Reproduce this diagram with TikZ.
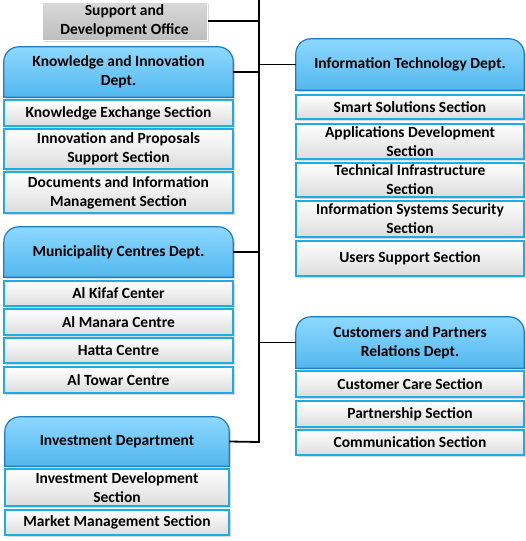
\documentclass[tikz,border=0pt]{standalone}
\usepackage{fontspec}
\setmainfont{Carlito}
\usetikzlibrary{shadows,backgrounds,calc}
\definecolor{deptTop}{HTML}{8DD8FF}
\definecolor{deptBot}{HTML}{52B8EE}
\definecolor{deptLine}{HTML}{1F7BC4}
\definecolor{secLine}{HTML}{1AAEE8}
\definecolor{secBot}{HTML}{DCDCDC}
\definecolor{supTop}{HTML}{D9D9D9}
\definecolor{supBot}{HTML}{BEBEBE}
\tikzset{
  txt/.style={font=\fontsize{15.5}{19}\selectfont\bfseries, align=center, inner sep=0pt, text=black},
  secbox/.style={txt, draw=secLine, line width=1.2pt, top color=white, bottom color=secBot,
     drop shadow={shadow xshift=2pt, shadow yshift=-2pt, opacity=0.3, fill=gray}},
  deptbox/.style={txt, minimum height=#1},
  supbox/.style={txt, draw=white, line width=1pt, top color=supTop, bottom color=supBot,
     drop shadow={shadow xshift=2pt, shadow yshift=-2pt, opacity=0.3, fill=gray}},
  conn/.style={line width=1.8pt, black},
  deptshape/.style={top color=deptTop, bottom color=deptBot, draw=deptLine, line width=1.2pt,
     drop shadow={shadow xshift=2pt, shadow yshift=-2pt, opacity=0.3, fill=gray}},
}
\newcommand{\deptshape}[1]{%
  \begin{pgfonlayer}{background}
  \shade[deptshape] (#1.south west) -- ([yshift=-15pt]#1.north west)
     arc[start angle=180,end angle=90,radius=15pt] -- ([xshift=-15pt]#1.north east)
     arc[start angle=90,end angle=0,radius=15pt] -- (#1.south east) -- cycle;
  \end{pgfonlayer}}
\begin{document}
\begin{tikzpicture}[x=1pt,y=1pt]
\useasboundingbox (0,0) rectangle (526,-541);
% trunk
\coordinate (top) at (259,0);
\coordinate (bot) at (259,-442);

% support office
\node[supbox, minimum width=165pt, minimum height=38pt] (sup) at (124.5,-21) {Support and\\Development Office};

% Left column
\node[deptbox=50pt, minimum width=229pt] (kid) at (118.5,-72) {Knowledge and Innovation\\Dept.};
\deptshape{kid}
\node[secbox, minimum width=229pt, minimum height=26pt] (ke) at (118.5,-113) {Knowledge Exchange Section};
\node[secbox, minimum width=229pt, minimum height=40pt] (ip) at (118.5,-149) {Innovation and Proposals\\Support Section};
\node[secbox, minimum width=229pt, minimum height=41pt] (di) at (118.5,-192.5) {Documents and Information\\Management Section};

\node[deptbox=50pt, minimum width=229pt] (mcd) at (118.5,-252) {Municipality Centres Dept.};
\deptshape{mcd}
\node[secbox, minimum width=229pt, minimum height=25pt] (kif) at (118.5,-293.5) {Al Kifaf  Center};
\node[secbox, minimum width=229pt, minimum height=26pt] (man) at (118.5,-322) {Al Manara Centre};
\node[secbox, minimum width=229pt, minimum height=25pt] (hat) at (118.5,-350.5) {Hatta Centre};
\node[secbox, minimum width=229pt, minimum height=26pt] (tow) at (118.5,-380) {Al Towar Centre};

\node[deptbox=49pt, minimum width=224pt] (inv) at (117,-441.5) {Investment Department};
\deptshape{inv}
\node[secbox, minimum width=224pt, minimum height=37pt] (ivd) at (117,-487.5) {Investment Development\\Section};
\node[secbox, minimum width=224pt, minimum height=25pt] (mkt) at (117,-522.5) {Market Management Section};

% Right column
\node[deptbox=51pt, minimum width=228pt] (it) at (410,-64.5) {Information Technology Dept.};
\deptshape{it}
\node[secbox, minimum width=228pt, minimum height=24pt] (sss) at (410,-107) {Smart Solutions Section};
\node[secbox, minimum width=228pt, minimum height=35pt] (ads) at (410,-141.5) {Applications Development\\Section};
\node[secbox, minimum width=228pt, minimum height=34pt] (tis) at (410,-180) {Technical Infrastructure\\Section};
\node[secbox, minimum width=228pt, minimum height=36pt] (iss) at (410,-219) {Information Systems Security\\Section};
\node[secbox, minimum width=228pt, minimum height=35pt] (uss) at (410,-258.5) {Users Support Section};

\node[deptbox=51pt, minimum width=228pt] (cpr) at (410,-342.5) {Customers and Partners\\Relations Dept.};
\deptshape{cpr}
\node[secbox, minimum width=228pt, minimum height=26pt] (ccs) at (410,-384) {Customer Care Section};
\node[secbox, minimum width=228pt, minimum height=26pt] (pss) at (410,-414) {Partnership Section};
\node[secbox, minimum width=228pt, minimum height=25pt] (com) at (410,-442.5) {Communication Section};

% connectors
\draw[conn] (inv.east) -- (bot) -- (top);
\draw[conn] (sup.east) -- (sup.east -| top);
\draw[conn] (kid.east) -- (kid.east -| top);
\draw[conn] (mcd.east) -- (mcd.east -| top);
\draw[conn] (it.west) -- (it.west -| top);
\draw[conn] (cpr.west) -- (cpr.west -| top);
\end{tikzpicture}
\end{document}
